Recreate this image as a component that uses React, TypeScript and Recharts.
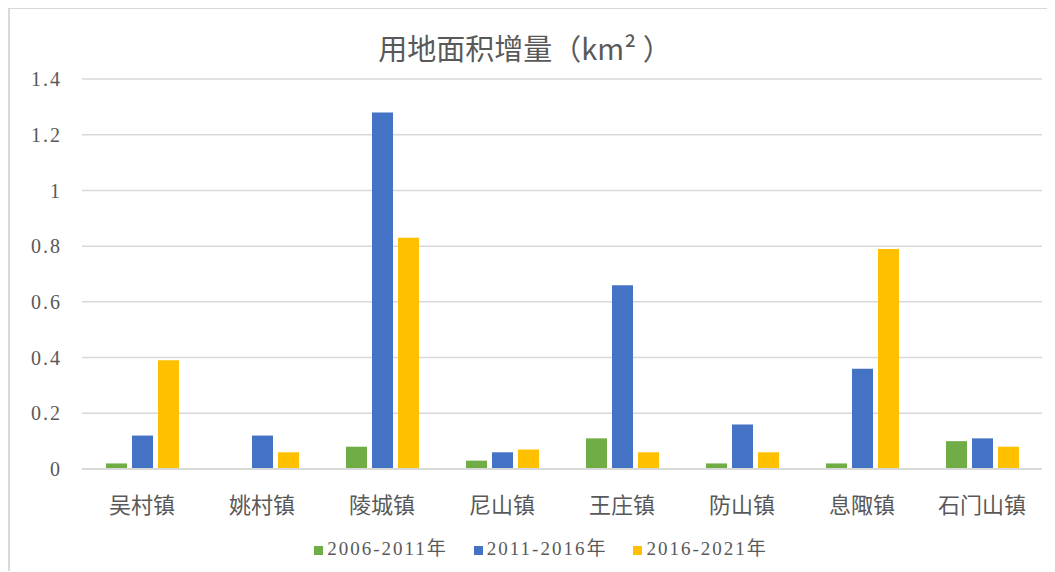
import React from "react";
import { Bar, BarChart, CartesianGrid, Legend, XAxis, YAxis } from "recharts";

const towns = ["吴村镇", "姚村镇", "陵城镇", "尼山镇", "王庄镇", "防山镇", "息陬镇", "石门山镇"];
const period1 = [0.02, 0, 0.08, 0.03, 0.11, 0.02, 0.02, 0.1];
const period2 = [0.12, 0.12, 1.28, 0.06, 0.66, 0.16, 0.36, 0.11];
const period3 = [0.39, 0.06, 0.83, 0.07, 0.06, 0.06, 0.79, 0.08];
const yTicks = [0, 0.2, 0.4, 0.6, 0.8, 1, 1.2, 1.4];

const data = towns.map((name, i) => ({
  name,
  p1: period1[i],
  p2: period2[i],
  p3: period3[i],
}));

const textColor = "#595959";
const serif = "'Liberation Serif', 'Noto Sans CJK SC', serif";

export default function App() {
  return (
    <div
      style={{
        position: "relative",
        width: 1045,
        height: 562,
        borderTop: "2px solid #d9d9d9",
        borderLeft: "2px solid #d9d9d9",
        marginTop: -1,
        background: "#fff",
      }}
    >
      <div
        style={{
          position: "absolute",
          top: 17,
          left: 0,
          width: 1030,
          textAlign: "center",
          fontFamily: "'Noto Sans CJK SC', sans-serif",
          fontSize: 29,
          color: textColor,
        }}
      >
        用地面积增量（km² ）
      </div>
      <BarChart
        width={1045}
        height={560}
        data={data}
        barSize={21}
        barGap={5}
        margin={{ top: 70, right: 13, left: 0, bottom: 6 }}
      >
        <CartesianGrid vertical={false} stroke="#d9d9d9" strokeWidth={1.5} />
        <XAxis
          dataKey="name"
          stroke="#d9d9d9"
          strokeWidth={2}
          tickLine={false}
          height={64}
          tickMargin={22}
          tick={{ fill: textColor, fontSize: 22, fontFamily: serif }}
        />
        <YAxis
          domain={[0, 1.4]}
          ticks={yTicks}
          width={72}
          axisLine={false}
          tickLine={false}
          tickSize={0}
          tickMargin={20}
          tick={{ fill: textColor, fontSize: 20, fontFamily: serif, letterSpacing: 2 }}
        />
        <Legend
          verticalAlign="bottom"
          iconType="square"
          iconSize={9}
          height={30}
          wrapperStyle={{ fontFamily: serif, fontSize: 19, paddingLeft: 28 }}
          formatter={(value: string) => (
            <span style={{ color: textColor, marginRight: 16, letterSpacing: 2 }}>{value}</span>
          )}
        />
        <Bar dataKey="p1" name="2006-2011年" fill="#70AD47" isAnimationActive={false} />
        <Bar dataKey="p2" name="2011-2016年" fill="#4472C4" isAnimationActive={false} />
        <Bar dataKey="p3" name="2016-2021年" fill="#FFC000" isAnimationActive={false} />
      </BarChart>
    </div>
  );
}
